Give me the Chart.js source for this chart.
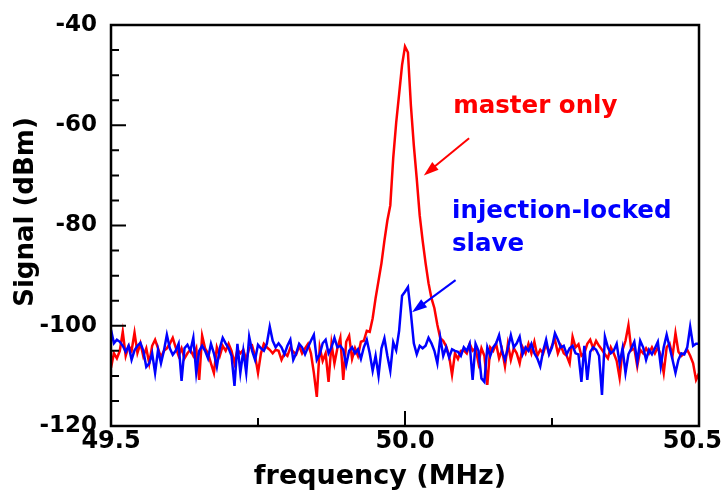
<!DOCTYPE html>
<html>
<head>
<meta charset="utf-8">
<script src="https://cdn.jsdelivr.net/npm/chart.js@4.4.1/dist/chart.umd.min.js"></script>
<style>
  html, body { margin: 0; padding: 0; background: #fff; }
  #wrap { width: 727px; height: 494px; position: relative; }
</style>
</head>
<body>
<div id="wrap"><canvas id="c" width="727" height="494"></canvas></div>
<script>
// Spectrum analyzer sweep: 201 points from 49.5 MHz to 50.5 MHz
const sweepStart = 49.5;
const sweepStep = 0.005;

// Trace with only the master laser (dBm)
const masterOnly = [
  -108.4, -105.5, -106.5, -105, -101.2, -106, -104, -105, -101.4, -105.4,
  -103.5, -106.1, -104.5, -107.5, -104, -102.8, -104.5, -106.3, -105, -104.5,
  -103.6, -102.4, -104.3, -106, -104.5, -106.5, -105.5, -104.8, -106, -104.5,
  -110.8, -102, -104.5, -105.5, -107.5, -109.4, -104.3, -106, -104, -105,
  -103.6, -105, -107.5, -104.8, -105.5, -104.8, -106.8, -104.5, -104, -106,
  -109.4, -105.5, -103.6, -104.3, -104.8, -105.5, -104.8, -105, -106.8, -105.5,
  -106, -104.4, -105.2, -105.7, -104, -105.5, -104.5, -103.6, -105.5, -109.4,
  -114.2, -104.3, -107, -105.5, -111.2, -103.6, -107.5, -104.5, -102.4, -110.8,
  -103.2, -102, -106.6, -104.5, -106, -103.2, -103, -101, -101.2, -98.5,
  -94.5, -91, -87.5, -83, -79, -76, -66.5, -59.5, -53.8, -48,
  -44.3, -45.5, -56, -64, -70.7, -78, -83, -87.5, -91.5, -94.5,
  -96.5, -99.8, -102.5, -103, -104.1, -106, -109.8, -105.5, -106.6, -105,
  -104.9, -105.5, -103.6, -105, -104.5, -107.5, -104.5, -106, -111.8, -104.3,
  -105, -103.6, -106.5, -104.8, -108.1, -103.6, -106.8, -104.5, -105.5, -107.5,
  -104.3, -105.5, -103.6, -105.5, -103.2, -106, -104.8, -105.5, -103.6, -105.5,
  -104, -102.8, -105.5, -104, -105.5, -106, -107.5, -102.2, -104.3, -103.7,
  -106, -105.5, -103.6, -102.8, -104.5, -103, -104, -104.8, -105.7, -106.5,
  -104.3, -105.5, -107, -110.4, -104.8, -103, -99.9, -104.9, -104.5, -108.1,
  -104.8, -105.5, -104.5, -105.5, -104.3, -105.5, -104.3, -106, -109.4, -104.3,
  -103.6, -106, -101.5, -105.2, -106, -105.5, -104.8, -106, -107.5, -110.8,
  -109.5
];

// Trace of the injection-locked slave laser (dBm)
const injectionLocked = [
  -100.8, -103.5, -102.8, -103.2, -104, -105.2, -104, -106.8, -104.9, -104,
  -103.4, -105, -108.2, -107.5, -105.5, -109.4, -104.8, -107.5, -105, -101.8,
  -104.5, -105.8, -105, -103.6, -111, -104.5, -103.8, -105, -102.4, -109.4,
  -105, -104, -105, -106.5, -103.6, -105.5, -108.2, -104.5, -102.4, -103.5,
  -104.5, -106, -112, -103.6, -109.4, -105, -109.4, -102.2, -105, -106.8,
  -103.8, -104.5, -105, -103.6, -100.2, -103, -104.3, -103.5, -104.3, -105.7,
  -104, -102.8, -106.8, -105.5, -103.6, -104.3, -105.7, -104.3, -103, -101.8,
  -106.8, -105.7, -103.5, -102.8, -105.5, -104.3, -102.4, -104.3, -104, -104.8,
  -107.8, -105, -104.3, -105.5, -104.7, -106.6, -104.3, -102.8, -105.5, -109,
  -106, -110, -104.5, -102.5, -106, -109, -103.3, -104.9, -101, -94,
  -93.2, -92.3, -97.5, -103.5, -105.7, -104, -104.5, -104, -102.4, -103.5,
  -105, -107.5, -102.4, -106, -104.3, -106.3, -104.7, -105, -105.2, -106,
  -104.3, -105, -103.6, -110.8, -103.6, -105, -110.5, -111.2, -104.3, -106,
  -104.3, -103.5, -101.9, -105, -106.8, -104.5, -101.9, -104.3, -103.5, -102.2,
  -105.7, -104.3, -105, -103.6, -105.5, -106.5, -108.1, -105, -102.8, -105.7,
  -104.3, -101.5, -102.8, -104.3, -104, -105.7, -104.5, -104, -105.5, -105.7,
  -111.2, -104, -110.8, -105.2, -104.3, -104.8, -106, -113.8, -102.2, -104.3,
  -105.5, -105, -103.6, -107.5, -104.5, -109.4, -105.7, -104.5, -103.2, -107.2,
  -103, -104.3, -106.8, -104.8, -105.7, -104.5, -103.2, -108.1, -104.3, -101.8,
  -104.3, -106.8, -109.4, -106.8, -105.5, -105.7, -104.3, -100.2, -104, -103.6,
  -103.6
];

// Axis ticks
const xMajorTicks = [49.5, 50.0, 50.5];
const xMinorTicks = [49.75, 50.25];
const yMajorTicks = [-120, -100, -80, -60, -40];
const yMinorTicks = [-115, -110, -105, -95, -90, -85, -75, -70, -65, -55, -50, -45];

const frequencies = masterOnly.map((_, i) => +(sweepStart + i * sweepStep).toFixed(3));
const toPoints = vals => vals.map((v, i) => ({ x: frequencies[i], y: v }));

const FONT = '"DejaVu Sans", "Liberation Sans", Arial, sans-serif';

// Trace labels with arrows, placed in data coordinates
const callouts = [
  { lines: ['master only'], color: '#ff0000', x: 50.082, y: -56.3,
    arrow: { from: [50.109, -62.6], to: [50.032, -70.0] } },
  { lines: ['injection-locked', 'slave'], color: '#0000ff', x: 50.080, y: -77.3,
    arrow: { from: [50.086, -90.9], to: [50.012, -97.3] } }
];

const framePlugin = {
  id: 'frame',
  afterDatasetsDraw(chart) {
    const { ctx, chartArea: a, scales: { x, y } } = chart;
    ctx.save();
    // plot frame
    ctx.strokeStyle = '#000';
    ctx.lineWidth = 2.5;
    ctx.strokeRect(a.left, a.top, a.right - a.left, a.bottom - a.top);
    // inward tick marks
    ctx.lineWidth = 2;
    ctx.beginPath();
    yMajorTicks.forEach(v => { const p = y.getPixelForValue(v); ctx.moveTo(a.left, p); ctx.lineTo(a.left + 15, p); });
    yMinorTicks.forEach(v => { const p = y.getPixelForValue(v); ctx.moveTo(a.left, p); ctx.lineTo(a.left + 8, p); });
    xMajorTicks.forEach(v => { const p = x.getPixelForValue(v); ctx.moveTo(p, a.bottom); ctx.lineTo(p, a.bottom - 15); });
    xMinorTicks.forEach(v => { const p = x.getPixelForValue(v); ctx.moveTo(p, a.bottom); ctx.lineTo(p, a.bottom - 8); });
    ctx.stroke();

    // x tick labels, kept inside the canvas
    ctx.fillStyle = '#000';
    ctx.font = 'bold 24px ' + FONT;
    ctx.textAlign = 'left';
    ctx.textBaseline = 'middle';
    xMajorTicks.forEach(v => {
      const t = v.toFixed(1);
      const w = ctx.measureText(t).width;
      let left = x.getPixelForValue(v) - w / 2;
      left = Math.min(left, chart.width - 5 - w);
      ctx.fillText(t, left, 442);
    });

    // axis titles
    ctx.font = 'bold 27px ' + FONT;
    ctx.textAlign = 'center';
    ctx.fillText('frequency (MHz)', 380, 477);
    ctx.save();
    ctx.translate(26, 212);
    ctx.rotate(-Math.PI / 2);
    ctx.font = 'bold 26px ' + FONT;
    ctx.fillText('Signal (dBm)', 0, 0);
    ctx.restore();

    // callouts
    callouts.forEach(c => {
      ctx.fillStyle = c.color;
      ctx.strokeStyle = c.color;
      ctx.font = 'bold 24.5px ' + FONT;
      ctx.textAlign = 'left';
      ctx.textBaseline = 'middle';
      const tx = x.getPixelForValue(c.x);
      const ty = y.getPixelForValue(c.y);
      c.lines.forEach((t, k) => ctx.fillText(t, tx, ty + k * 33));
      const x0 = x.getPixelForValue(c.arrow.from[0]), y0 = y.getPixelForValue(c.arrow.from[1]);
      const x1 = x.getPixelForValue(c.arrow.to[0]), y1 = y.getPixelForValue(c.arrow.to[1]);
      const ang = Math.atan2(y1 - y0, x1 - x0);
      const head = 15, half = 5;
      ctx.lineWidth = 2;
      ctx.beginPath();
      ctx.moveTo(x0, y0);
      ctx.lineTo(x1 - Math.cos(ang) * head * 0.8, y1 - Math.sin(ang) * head * 0.8);
      ctx.stroke();
      ctx.beginPath();
      ctx.moveTo(x1, y1);
      ctx.lineTo(x1 - Math.cos(ang) * head - Math.sin(ang) * half, y1 - Math.sin(ang) * head + Math.cos(ang) * half);
      ctx.lineTo(x1 - Math.cos(ang) * head + Math.sin(ang) * half, y1 - Math.sin(ang) * head - Math.cos(ang) * half);
      ctx.closePath();
      ctx.fill();
    });
    ctx.restore();
  }
};

new Chart(document.getElementById('c'), {
  type: 'line',
  data: {
    datasets: [
      { label: 'master only', data: toPoints(masterOnly), borderColor: '#ff0000',
        borderWidth: 2.5, pointRadius: 0, tension: 0, fill: false, order: 2 },
      { label: 'injection-locked slave', data: toPoints(injectionLocked), borderColor: '#0000ff',
        borderWidth: 2.5, pointRadius: 0, tension: 0, fill: false, order: 1 }
    ]
  },
  options: {
    responsive: false,
    animation: false,
    devicePixelRatio: 1,
    layout: { padding: { left: 0, top: 25, right: 28, bottom: 0 } },
    plugins: { legend: { display: false }, tooltip: { enabled: false } },
    scales: {
      x: {
        type: 'linear', min: 49.5, max: 50.5,
        afterBuildTicks: s => { s.ticks = xMajorTicks.map(v => ({ value: v })); },
        afterFit: s => { s.height = 68; s.paddingLeft = 0; s.paddingRight = 0; },
        grid: { display: false, drawTicks: false },
        border: { display: false },
        ticks: { display: false }
      },
      y: {
        type: 'linear', min: -120, max: -40,
        afterBuildTicks: s => { s.ticks = yMajorTicks.map(v => ({ value: v })); },
        afterFit: s => { s.width = 111; s.paddingTop = 0; s.paddingBottom = 0; },
        grid: { display: false, drawTicks: false },
        border: { display: false },
        ticks: { color: '#000', padding: 14, autoSkip: false,
                 font: { family: FONT, size: 23, weight: 'bold' },
                 callback: v => String(v) }
      }
    }
  },
  plugins: [framePlugin]
});
</script>
</body>
</html>
